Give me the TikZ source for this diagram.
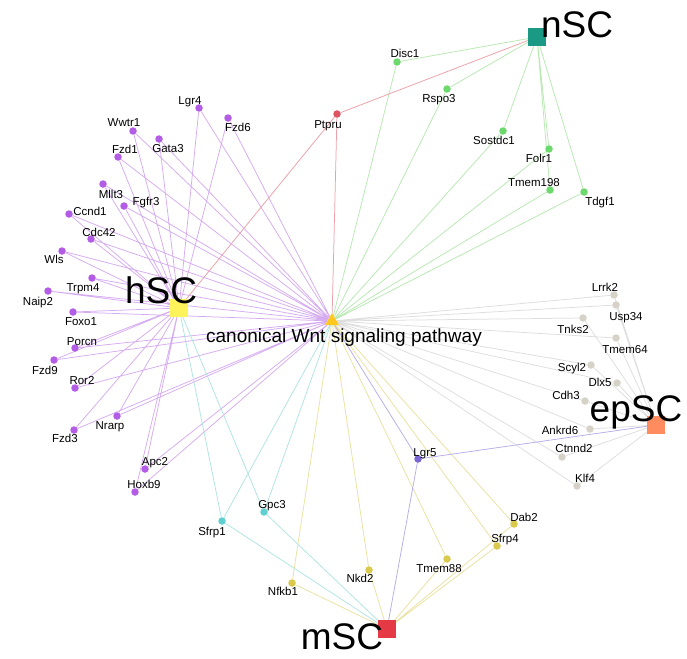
\documentclass[tikz,border=0pt]{standalone}
\usepackage{fontspec}
\setmainfont{Liberation Sans}
\usepackage{tikz}
\usetikzlibrary{shapes.geometric,backgrounds}
\definecolor{hcol}{HTML}{B35CE6}
\definecolor{hline}{HTML}{D6ACF1}
\definecolor{ncol}{HTML}{6BD96B}
\definecolor{nline}{HTML}{B8E9B2}
\definecolor{ecol}{HTML}{D6D2C8}
\definecolor{eline}{HTML}{DEDEDE}
\definecolor{mcol}{HTML}{D9C94C}
\definecolor{mline}{HTML}{EAE2A0}
\definecolor{ccol}{HTML}{5FD0D0}
\definecolor{cline}{HTML}{B0E5E3}
\definecolor{rcol}{HTML}{E05462}
\definecolor{rline}{HTML}{EEA0A8}
\definecolor{lcol}{HTML}{7A66D6}
\definecolor{lline}{HTML}{B6ADEA}
\definecolor{hsccol}{HTML}{FFF35C}
\definecolor{nsccol}{HTML}{1A9985}
\definecolor{epsccol}{HTML}{FF8C5E}
\definecolor{msccol}{HTML}{E63946}
\definecolor{wntcol}{HTML}{FFC81E}

\begin{document}
\begin{tikzpicture}[
   x=1pt,y=-1pt,
   gene/.style={font=\fontsize{11.5}{12}\selectfont,inner sep=0pt,
                text height=8.3pt,text depth=0pt},
   gdot/.style={circle,fill=#1,inner sep=0pt,minimum size=7.5pt},
   hub/.style={rectangle,fill=#1,inner sep=0pt,minimum size=18pt},
   big/.style={font=\fontsize{37}{40}\selectfont,inner sep=0pt,anchor=base,
               text depth=0pt},
   link/.style={draw=#1,line width=0.75pt},
]
\useasboundingbox (0,0) rectangle (687,658);

% hubs and pathway
\node[regular polygon,regular polygon sides=3,fill=wntcol,inner sep=0pt,
      minimum size=16pt] (wnt) at (332,321) {};
\node[hub=hsccol]  (hsc)  at (179,308) {};
\node[hub=nsccol]  (nsc)  at (537,37)  {};
\node[hub=epsccol] (epsc) at (656,425) {};
\node[hub=msccol]  (msc)  at (387,629) {};

% hSC genes
\node[gdot=hcol] (lgr4)  at (199,108) {}; \node[gene] (lgr4t)  at (190,100) {Lgr4};
\node[gdot=hcol] (fzd6)  at (228,118) {}; \node[gene] (fzd6t)  at (238,127) {Fzd6};
\node[gdot=hcol] (wwtr1) at (133,131) {}; \node[gene] (wwtr1t) at (124,122) {Wwtr1};
\node[gdot=hcol] (gata3) at (159,139) {}; \node[gene] (gata3t) at (168,148) {Gata3};
\node[gdot=hcol] (fzd1)  at (118,157) {}; \node[gene] (fzd1t)  at (125,149) {Fzd1};
\node[gdot=hcol] (mllt3) at (103,184) {}; \node[gene] (mllt3t) at (111,194) {Mllt3};
\node[gdot=hcol] (fgfr3) at (124,206) {}; \node[gene] (fgfr3t) at (146,201) {Fgfr3};
\node[gdot=hcol] (ccnd1) at (69,214)  {}; \node[gene] (ccnd1t) at (90,211)  {Ccnd1};
\node[gdot=hcol] (cdc42) at (91,239)  {}; \node[gene] (cdc42t) at (99,232)  {Cdc42};
\node[gdot=hcol] (wls)   at (62,251)  {}; \node[gene] (wlst)   at (54,259)  {Wls};
\node[gdot=hcol] (trpm4) at (92,278)  {}; \node[gene] (trpm4t) at (83,287)  {Trpm4};
\node[gdot=hcol] (naip2) at (48,291)  {}; \node[gene] (naip2t) at (38,301)  {Naip2};
\node[gdot=hcol] (foxo1) at (73,312)  {}; \node[gene] (foxo1t) at (81,321)  {Foxo1};
\node[gdot=hcol] (porcn) at (75,348)  {}; \node[gene] (porcnt) at (82,341)  {Porcn};
\node[gdot=hcol] (fzd9)  at (54,360)  {}; \node[gene] (fzd9t)  at (45,370)  {Fzd9};
\node[gdot=hcol] (ror2)  at (75,388)  {}; \node[gene] (ror2t)  at (82,380)  {Ror2};
\node[gdot=hcol] (nrarp) at (117,416) {}; \node[gene] (nrarpt) at (110,425) {Nrarp};
\node[gdot=hcol] (fzd3)  at (74,430)  {}; \node[gene] (fzd3t)  at (65,438)  {Fzd3};
\node[gdot=hcol] (apc2)  at (145,469) {}; \node[gene] (apc2t)  at (155,461) {Apc2};
\node[gdot=hcol] (hoxb9) at (135,492) {}; \node[gene] (hoxb9t) at (144,484) {Hoxb9};

% shared genes
\node[gdot=rcol] (ptpru) at (337,114) {}; \node[gene] (ptprut) at (328,124) {Ptpru};
\node[gdot=lcol] (lgr5)  at (418,459) {}; \node[gene] (lgr5t)  at (425,452) {Lgr5};
\node[gdot=ccol] (sfrp1) at (222,521) {}; \node[gene] (sfrp1t) at (212,531) {Sfrp1};
\node[gdot=ccol] (gpc3)  at (264,512) {}; \node[gene] (gpc3t)  at (272,504) {Gpc3};

% nSC genes
\node[gdot=ncol] (disc1)   at (397,62)  {}; \node[gene] (disc1t)   at (405,53)  {Disc1};
\node[gdot=ncol] (rspo3)   at (447,89)  {}; \node[gene] (rspo3t)   at (439,98)  {Rspo3};
\node[gdot=ncol] (sostdc1) at (503,131) {}; \node[gene] (sostdc1t) at (494,140) {Sostdc1};
\node[gdot=ncol] (folr1)   at (549,149) {}; \node[gene] (folr1t)   at (539,158) {Folr1};
\node[gdot=ncol] (tmem198) at (550,190) {}; \node[gene] (tmem198t) at (534,182) {Tmem198};
\node[gdot=ncol] (tdgf1)   at (584,192) {}; \node[gene] (tdgf1t)   at (600,201) {Tdgf1};

% epSC genes
\node[gdot=ecol] (lrrk2)  at (614,295) {}; \node[gene] (lrrk2t)  at (605,287) {Lrrk2};
\node[gdot=ecol] (usp34)  at (616,305) {}; \node[gene] (usp34t)  at (626,316) {Usp34};
\node[gdot=ecol] (tnks2)  at (583,318) {}; \node[gene] (tnks2t)  at (573,329) {Tnks2};
\node[gdot=ecol] (tmem64) at (616,338) {}; \node[gene] (tmem64t) at (625,349) {Tmem64};
\node[gdot=ecol] (scyl2)  at (591,365) {}; \node[gene] (scyl2t)  at (572,367) {Scyl2};
\node[gdot=ecol] (dlx5)   at (617,383) {}; \node[gene] (dlx5t)   at (600,382) {Dlx5};
\node[gdot=ecol] (cdh3)   at (585,401) {}; \node[gene] (cdh3t)   at (566,395) {Cdh3};
\node[gdot=ecol] (ankrd6) at (590,429) {}; \node[gene] (ankrd6t) at (560,430) {Ankrd6};
\node[gdot=ecol] (ctnnd2) at (562,457) {}; \node[gene] (ctnnd2t) at (574,448) {Ctnnd2};
\node[gdot=ecol] (klf4)   at (577,486) {}; \node[gene] (klf4t)   at (585,478) {Klf4};

% mSC genes
\node[gdot=mcol] (dab2)   at (514,524) {}; \node[gene] (dab2t)   at (524,517) {Dab2};
\node[gdot=mcol] (sfrp4)  at (497,546) {}; \node[gene] (sfrp4t)  at (505,538) {Sfrp4};
\node[gdot=mcol] (tmem88) at (447,559) {}; \node[gene] (tmem88t) at (439,568) {Tmem88};
\node[gdot=mcol] (nkd2)   at (369,570) {}; \node[gene] (nkd2t)   at (360,578) {Nkd2};
\node[gdot=mcol] (nfkb1)  at (292,583) {}; \node[gene] (nfkb1t)  at (283,591) {Nfkb1};

% hub and pathway labels
\node[big] (hsct)  at (161,303) {hSC};
\node[big] (nsct)  at (577,38)  {nSC};
\node[big] (epsct) at (636,421) {epSC};
\node[big] (msct)  at (342,649) {mSC};
\node[font=\fontsize{19}{22}\selectfont,inner sep=0pt,anchor=base] (wntt)
      at (344,342) {canonical Wnt signaling pathway};

% edges
\begin{scope}[on background layer]
\fill[white] (0,0) rectangle (687,658);
\draw[link=hline] (hsc) -- (lgr4) -- (wnt) (hsc) -- (fzd6) -- (wnt)
   (hsc) -- (wwtr1) -- (wnt) (hsc) -- (gata3) -- (wnt) (hsc) -- (fzd1) -- (wnt)
   (hsc) -- (mllt3) -- (wnt) (hsc) -- (fgfr3) -- (wnt) (hsc) -- (ccnd1) -- (wnt)
   (hsc) -- (cdc42) -- (wnt) (hsc) -- (wls) -- (wnt) (hsc) -- (trpm4) -- (wnt)
   (hsc) -- (naip2) -- (wnt) (hsc) -- (foxo1) -- (wnt) (hsc) -- (porcn) -- (wnt)
   (hsc) -- (fzd9) -- (wnt) (hsc) -- (ror2) -- (wnt) (hsc) -- (nrarp) -- (wnt)
   (hsc) -- (fzd3) -- (wnt) (hsc) -- (apc2) -- (wnt) (hsc) -- (hoxb9) -- (wnt);
\draw[link=nline] (nsc) -- (disc1) -- (wnt) (nsc) -- (rspo3) -- (wnt)
   (nsc) -- (sostdc1) -- (wnt) (nsc) -- (folr1) -- (wnt)
   (nsc) -- (tmem198) -- (wnt) (nsc) -- (tdgf1) -- (wnt);
\draw[link=eline] (epsc) -- (lrrk2) -- (wnt) (epsc) -- (usp34) -- (wnt)
   (epsc) -- (tnks2) -- (wnt) (epsc) -- (tmem64) -- (wnt) (epsc) -- (scyl2) -- (wnt)
   (epsc) -- (dlx5) -- (wnt) (epsc) -- (cdh3) -- (wnt) (epsc) -- (ankrd6) -- (wnt)
   (epsc) -- (ctnnd2) -- (wnt) (epsc) -- (klf4) -- (wnt);
\draw[link=mline] (msc) -- (dab2) -- (wnt) (msc) -- (sfrp4) -- (wnt)
   (msc) -- (tmem88) -- (wnt) (msc) -- (nkd2) -- (wnt) (msc) -- (nfkb1) -- (wnt);
\draw[link=cline] (hsc) -- (sfrp1) -- (msc) (sfrp1) -- (wnt)
   (hsc) -- (gpc3) -- (msc) (gpc3) -- (wnt);
\draw[link=rline] (hsc) -- (ptpru) -- (nsc) (ptpru) -- (wnt);
\draw[link=lline] (epsc) -- (lgr5) -- (msc) (lgr5) -- (wnt);
\end{scope}

\end{tikzpicture}
\end{document}
